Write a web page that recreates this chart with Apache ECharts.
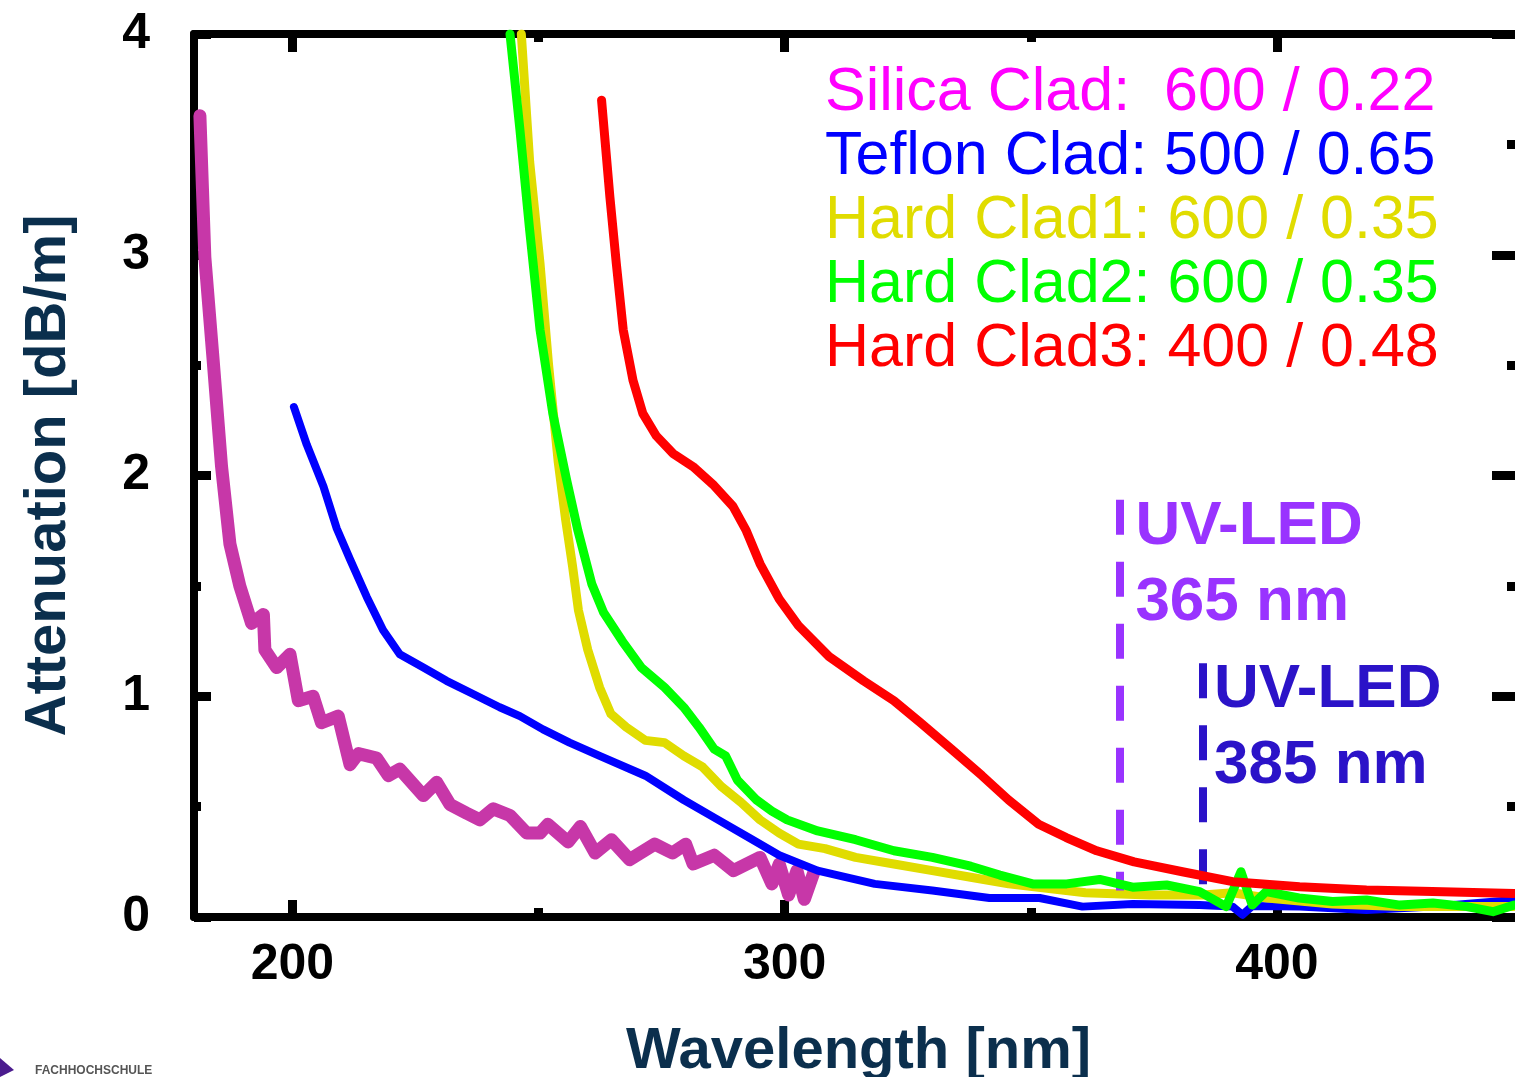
<!DOCTYPE html>
<html>
<head>
<meta charset="utf-8">
<script src="https://cdn.jsdelivr.net/npm/echarts@6/dist/echarts.min.js"></script>
<style>
  html, body { margin: 0; padding: 0; background: #fff; }
  #chart { width: 1515px; height: 1077px; }
</style>
</head>
<body>
<div id="chart"></div>
<script>
// wavelength [nm], attenuation [dB/m]
const silica = [[181.2,3.63],[182.2,2.99],[183.9,2.52],[185.6,2.04],[187.3,1.69],[189.3,1.50],[191.7,1.33],[194.1,1.37],[194.4,1.21],[196.8,1.13],[199.5,1.19],[201.2,0.98],[204.2,1.00],[205.9,0.88],[209.3,0.91],[211.7,0.69],[213.4,0.74],[217.1,0.72],[219.5,0.64],[221.8,0.67],[226.6,0.55],[229.3,0.61],[232.0,0.51],[235.4,0.47],[238.1,0.44],[240.8,0.49],[244.2,0.46],[247.6,0.38],[250.3,0.38],[251.9,0.42],[256.0,0.34],[258.5,0.41],[261.5,0.29],[264.8,0.35],[268.5,0.26],[273.6,0.33],[277.2,0.29],[279.9,0.33],[281.4,0.24],[285.7,0.28],[289.6,0.21],[295.0,0.27],[297.4,0.15],[298.9,0.24],[300.8,0.10],[302.5,0.21],[304.0,0.08],[305.9,0.20]];
const teflon = [[200.3,2.31],[202.9,2.14],[206.3,1.95],[209.0,1.76],[211.7,1.62],[215.1,1.45],[218.4,1.30],[221.8,1.19],[226.6,1.13],[231.3,1.07],[236.7,1.01],[242.1,0.95],[246.2,0.91],[250.9,0.85],[256.3,0.79],[262.4,0.73],[271.7,0.64],[279.5,0.53],[285.7,0.45],[292.7,0.36],[298.9,0.28],[306.7,0.21],[318.3,0.15],[330.0,0.12],[341.6,0.086],[351.8,0.086],[360.5,0.047],[370.7,0.059],[384.3,0.054],[391.0,0.047],[393.0,0.01],[395.0,0.05],[404.6,0.047],[418.2,0.032],[431.6,0.047],[448.2,0.077]];
const hard1 = [[246.5,4.0],[248.2,3.42],[250.3,2.96],[252.0,2.51],[254.0,2.06],[255.5,1.80],[256.9,1.59],[258.1,1.39],[260.0,1.21],[262.4,1.04],[264.7,0.92],[267.8,0.86],[271.7,0.80],[275.6,0.79],[279.5,0.73],[283.3,0.68],[287.2,0.59],[291.1,0.52],[295.0,0.44],[298.9,0.38],[302.8,0.33],[308.2,0.31],[314.4,0.27],[322.2,0.24],[330.0,0.21],[337.8,0.18],[345.5,0.15],[353.3,0.13],[361.1,0.11],[374.1,0.10],[385.0,0.10],[391.0,0.11],[398.0,0.086],[411.3,0.059],[424.9,0.047],[448.0,0.047]];
const hard2 = [[244.2,4.0],[246.2,3.57],[248.2,3.11],[250.3,2.66],[252.9,2.28],[255.7,1.98],[258.0,1.75],[260.8,1.51],[263.2,1.38],[267.0,1.25],[270.9,1.13],[275.6,1.04],[279.5,0.95],[282.6,0.86],[285.7,0.76],[288.0,0.73],[290.4,0.62],[294.3,0.53],[297.4,0.48],[300.5,0.44],[306.7,0.39],[314.4,0.35],[322.2,0.30],[330.0,0.27],[337.8,0.23],[343.7,0.19],[350.4,0.15],[357.3,0.15],[364.0,0.17],[370.7,0.135],[377.6,0.145],[384.3,0.115],[389.7,0.047],[392.7,0.205],[395.0,0.054],[397.8,0.115],[404.5,0.086],[411.3,0.07],[418.2,0.077],[425.0,0.054],[431.7,0.063],[438.6,0.047],[443.9,0.024],[448.2,0.054]];
const hard3 = [[262.8,3.70],[264.5,3.26],[265.8,2.96],[267.2,2.66],[269.2,2.43],[271.2,2.28],[273.9,2.18],[277.3,2.10],[281.4,2.04],[285.4,1.96],[289.5,1.86],[292.2,1.75],[295.0,1.60],[298.9,1.44],[302.8,1.32],[309.0,1.18],[316.0,1.07],[322.2,0.98],[327.6,0.88],[333.9,0.76],[340.1,0.64],[345.5,0.53],[351.6,0.42],[357.2,0.36],[363.4,0.30],[371.0,0.25],[380.8,0.205],[391.0,0.16],[404.6,0.137],[418.2,0.122],[431.6,0.115],[448.2,0.107]];

const seriesNames = ['Silica Clad', 'Teflon Clad', 'Hard Clad1', 'Hard Clad2', 'Hard Clad3'];
const seriesSpecs = ['  600 / 0.22', ' 500 / 0.65', ' 600 / 0.35', ' 600 / 0.35', ' 400 / 0.48'];
const lineColors = ['#c737a8', '#0000ff', '#e0dc00', '#00ff00', '#ff0000'];
const textColors = ['#ff00ff', '#0000ff', '#e0dc00', '#00ff00', '#ff0000'];
const lineWidths = [13, 8, 9, 9, 9];
const seriesData = [silica, teflon, hard1, hard2, hard3];

// UV-LED arrows: position, top of dashed line, arrow head centre
const ledNm = [368, 385];
const ledTop = [1.89, 1.15];
const ledTip = [0.12, 0.11];
const ledText = ['UV-LED\n365 nm', 'UV-LED\n385 nm'];
const ledColors = ['#9933ff', '#2b13c8'];

const xMajor = [200, 300, 400];
const xMinor = [250, 350];

const FONT = "'Liberation Sans', Arial, sans-serif";
const NAVY = '#0b2f4d';

const chart = echarts.init(document.getElementById('chart'));

const baseX = {
    type: 'value', min: 180, max: 450,
    splitLine: { show: false },
    axisLabel: { show: false },
    axisLine: { show: false, onZero: false }
};

const series = seriesData.map((d, i) => ({
    name: seriesNames[i],
    type: 'line',
    xAxisIndex: 0, yAxisIndex: 0,
    data: d,
    showSymbol: false,
    symbol: 'none',
    lineStyle: { color: lineColors[i], width: lineWidths[i], join: 'round', cap: 'round' },
    itemStyle: { color: lineColors[i] },
    z: 2 + i
}));

series.push({
    name: 'UV-LED',
    type: 'line',
    xAxisIndex: 0, yAxisIndex: 0,
    data: [],
    z: 10,
    markLine: {
        silent: true,
        symbol: ['none', 'triangle'],
        symbolSize: [0, 26],
        label: { show: false },
        lineStyle: { type: [35, 27], width: 8 },
        data: ledNm.map((nm, i) => [
            { coord: [nm, ledTop[i]], lineStyle: { color: ledColors[i] }, itemStyle: { color: ledColors[i] } },
            { coord: [nm, ledTip[i]] }
        ])
    },
    markPoint: {
        silent: true,
        symbol: 'circle',
        symbolSize: 0,
        label: {
            show: true,
            formatter: '{b}',
            fontFamily: FONT, fontWeight: 'bold', fontSize: 62, lineHeight: 76,
            align: 'left', verticalAlign: 'top'
        },
        data: ledNm.map((nm, i) => ({
            name: ledText[i],
            coord: [nm, ledTop[i]],
            label: { color: ledColors[i], position: [i === 0 ? 16 : 11, -11] }
        }))
    }
});

chart.setOption({
    animation: false,
    backgroundColor: '#fff',
    grid: { left: 194, right: -8, top: 34, bottom: 160, outerBoundsMode: 'none', containLabel: false },
    legend: {
        data: seriesNames.map((n, i) => ({ name: n, textStyle: { color: textColors[i] } })),
        orient: 'vertical',
        left: 815, top: 56,
        itemWidth: 0, itemHeight: 0, itemGap: 0,
        icon: 'rect',
        selectedMode: false,
        formatter: name => name + ':' + seriesSpecs[seriesNames.indexOf(name)],
        textStyle: { fontFamily: FONT, fontSize: 61, lineHeight: 64 }
    },
    xAxis: [
        Object.assign({}, baseX, {
            position: 'bottom',
            axisLine: { show: true, onZero: false, lineStyle: { color: '#000', width: 8 } },
            axisTick: { show: true, inside: true, length: 17, customValues: xMajor, lineStyle: { color: '#000', width: 9 } },
            axisLabel: { show: true, customValues: xMajor, margin: 23, color: '#000', fontFamily: FONT, fontWeight: 'bold', fontSize: 50 },
            name: 'Wavelength [nm]',
            nameLocation: 'middle',
            nameGap: 106,
            nameTextStyle: { color: NAVY, fontFamily: FONT, fontWeight: 'bold', fontSize: 58 }
        }),
        Object.assign({}, baseX, {
            position: 'bottom',
            axisTick: { show: true, inside: true, length: 9, customValues: xMinor, lineStyle: { color: '#000', width: 9 } }
        }),
        Object.assign({}, baseX, {
            position: 'top',
            axisLine: { show: true, onZero: false, lineStyle: { color: '#000', width: 8 } },
            axisTick: { show: true, inside: true, length: 18, customValues: xMajor, lineStyle: { color: '#000', width: 9 } }
        }),
        Object.assign({}, baseX, {
            position: 'top',
            axisTick: { show: true, inside: true, length: 8, customValues: xMinor, lineStyle: { color: '#000', width: 9 } }
        })
    ],
    yAxis: [
        {
            type: 'value', min: 0, max: 4, interval: 1,
            position: 'left',
            splitLine: { show: false },
            axisLine: { show: true, onZero: false, lineStyle: { color: '#000', width: 8 } },
            axisTick: { show: true, inside: true, length: 17, lineStyle: { color: '#000', width: 9 } },
            minorTick: { show: true, splitNumber: 2, length: 7, lineStyle: { color: '#000', width: 9 } },
            axisLabel: { margin: 44, color: '#000', fontFamily: FONT, fontWeight: 'bold', fontSize: 50 },
            name: 'Attenuation [dB/m]',
            nameLocation: 'middle',
            nameGap: 116,
            nameRotate: 90,
            nameTextStyle: { color: NAVY, fontFamily: FONT, fontWeight: 'bold', fontSize: 58 }
        },
        {
            type: 'value', min: 0, max: 4, interval: 1,
            position: 'right',
            splitLine: { show: false },
            axisLine: { show: true, onZero: false, lineStyle: { color: '#000', width: 8 } },
            axisTick: { show: true, inside: true, length: 31, lineStyle: { color: '#000', width: 9 } },
            minorTick: { show: true, splitNumber: 2, length: 16, lineStyle: { color: '#000', width: 9 } },
            axisLabel: { show: false }
        }
    ],
    graphic: [
        { type: 'polygon', shape: { points: [[0, 1058], [14, 1070], [0, 1077]] }, style: { fill: '#4b1c8e' } },
        { type: 'text', left: 35, top: 1065, style: { text: 'FACHHOCHSCHULE', font: 'bold 12px ' + FONT, fill: '#555' } }
    ],
    series: series
});
</script>
</body>
</html>
